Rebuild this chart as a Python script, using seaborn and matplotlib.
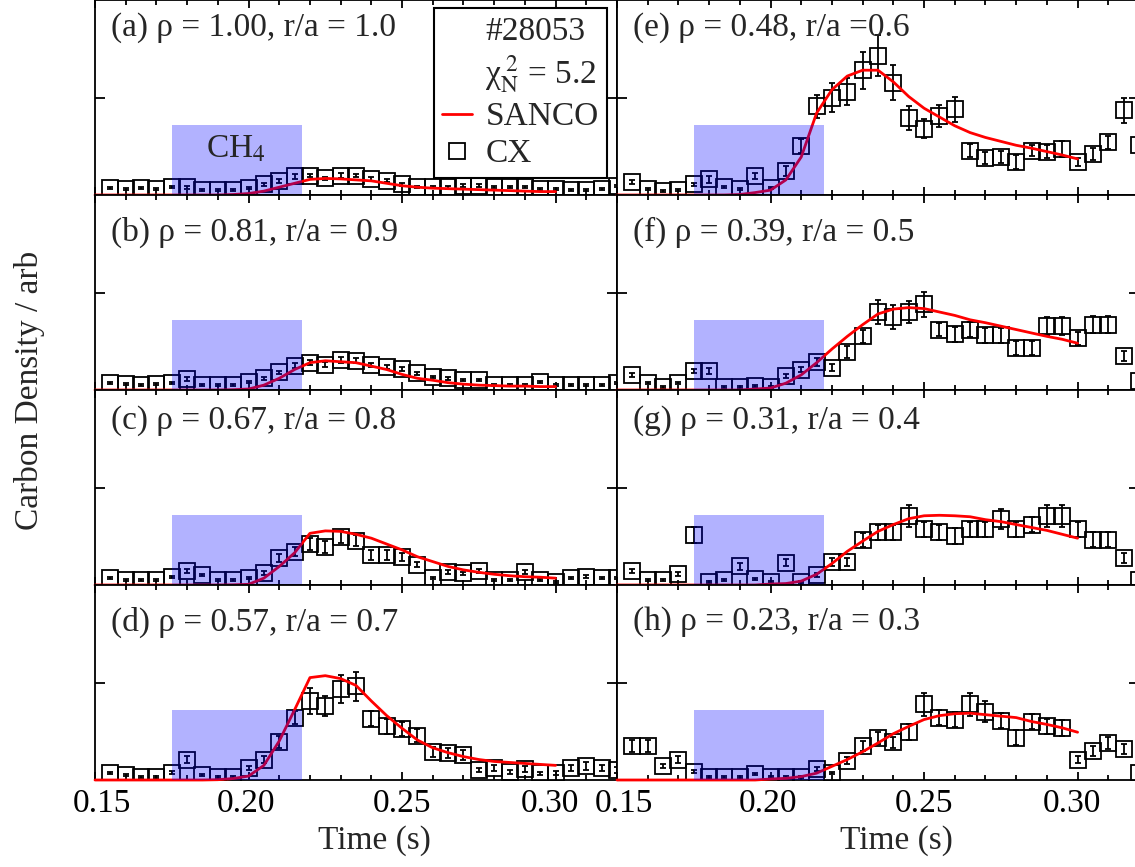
import matplotlib
matplotlib.use("Agg")
import matplotlib.pyplot as plt
import seaborn as sns
from matplotlib.lines import Line2D
from matplotlib.patches import Rectangle
from matplotlib.ticker import MultipleLocator
from matplotlib.transforms import ScaledTranslation

# CX sample times (s)
t_cx = [0.155, 0.160, 0.165, 0.170, 0.175, 0.180, 0.185, 0.190, 0.195, 0.200,
        0.205, 0.210, 0.215, 0.220, 0.225, 0.230, 0.235, 0.240, 0.245, 0.250,
        0.255, 0.260, 0.265, 0.270, 0.275, 0.280, 0.285, 0.290, 0.295, 0.300,
        0.305, 0.310, 0.315, 0.320]
# SANCO model times (s)
t_model = [0.150, 0.155, 0.160, 0.165, 0.170, 0.175, 0.180, 0.185, 0.190, 0.195,
           0.200, 0.205, 0.210, 0.215, 0.220, 0.225, 0.230, 0.235, 0.240, 0.245,
           0.250, 0.255, 0.260, 0.265, 0.270, 0.275, 0.280, 0.285, 0.290, 0.295,
           0.300]

# CX carbon density (arb) and errors per radius
a_cx = [.075, .06, .07, .06, .08, .08, .055, .055, .055, .07, .11, .145, .19, .20, .17, .20, .20,
        .16, .145, .11, .08, .08, .08, .095, .095, .08, .08, .08, .06, .06, .05, .05, .06, .09]
a_err = [.01, .01, .01, .01, .01, .015, .01, .01, .01, .01, .015, .02, .025, .02, .015, .025, .02,
         .02, .015, .015, .01, .01, .015, .015, .015, .01, .01, .01, .01, .01, .01, .01, .01, .01]
b_cx = [.075, .06, .05, .06, .075, .115, .05, .05, .05, .085, .12, .18, .25, .28, .26, .31, .30,
        .26, .24, .22, .17, .13, .12, .10, .10, .05, .05, .05, .085, .05, .05, .05, .05, .07]
b_err = [.01, .01, .01, .01, .01, .02, .01, .01, .01, .01, .015, .02, .025, .025, .025, .03, .025,
         .02, .02, .02, .015, .01, .015, .01, .01, .01, .01, .01, .01, .01, .01, .01, .01, .01]
c_cx = [.075, .05, .05, .05, .085, .14, .10, .05, .05, .075, .12, .28, .34, .42, .39, .49, .455,
        .31, .31, .29, .21, .075, .13, .12, .14, .05, .05, .13, .05, .03, .07, .085, .07, .075]
c_err = [.01, .01, .01, .01, .01, .02, .01, .01, .01, .01, .02, .04, .045, .06, .06, .06, .06,
         .05, .05, .04, .03, .01, .02, .015, .02, .01, .01, .02, .01, .01, .01, .015, .01, .01]
d_cx = [.075, .05, .035, .035, .075, .21, .05, .035, .035, .12, .21, .39, .64, .81, .76, .93, .96,
        .63, .55, .52, .455, .29, .28, .26, .10, .12, .085, .11, .07, .075, .12, .14, .12, .10]
d_err = [.01, .01, .01, .01, .015, .04, .01, .01, .01, .02, .04, .06, .07, .13, .10, .145, .15,
         .08, .08, .07, .07, .05, .05, .05, .02, .03, .02, .03, .015, .02, .03, .04, .03, .03]
e_cx = [.13, .06, .045, .05, .11, .16, .085, .06, .195, .07, .25, .50, .91, 1.0, 1.06, 1.28, 1.43,
        1.15, .79, .68, .81, .88, .455, .38, .39, .34, .455, .445, .47, .34, .42, .54, .87, .51]
e_err = [.02, .01, .01, .01, .015, .035, .01, .01, .03, .01, .05, .07, .12, .15, .14, .19, .21,
         .18, .12, .10, .11, .13, .07, .06, .06, .07, .06, .07, .08, .04, .06, .07, .13, .07]
f_cx = [.155, .07, .035, .07, .195, .195, .035, .035, .04, .03, .14, .21, .29, .23, .39, .55, .80,
        .75, .80, .88, .62, .57, .62, .56, .56, .43, .43, .655, .655, .53, .67, .67, .35, .09]
f_err = [.02, .01, .01, .01, .025, .03, .01, .01, .01, .01, .02, .03, .04, .04, .06, .07, .125,
         .12, .11, .13, .07, .08, .08, .08, .08, .07, .07, .09, .09, .07, .09, .09, .05, .02]
g_cx = [.145, .05, .05, .115, .51, .035, .05, .19, .06, .035, .23, .035, .10, .235, .235, .46, .54,
        .54, .71, .57, .54, .50, .57, .57, .675, .57, .62, .71, .71, .57, .465, .465, .28, .05]
g_err = [.02, .01, .01, .02, .08, .01, .01, .04, .01, .01, .04, .01, .02, .04, .04, .07, .08,
         .08, .11, .08, .08, .08, .08, .08, .10, .08, .08, .11, .11, .08, .08, .08, .05, .01]
h_cx = [.35, .35, .145, .21, .085, .035, .035, .035, .06, .035, .035, .035, .11, .075, .20, .345, .43,
        .385, .49, .775, .64, .62, .775, .70, .61, .435, .60, .55, .535, .21, .30, .38, .32, .07]
h_err = [.06, .06, .02, .04, .015, .01, .01, .01, .01, .01, .01, .01, .02, .01, .04, .05, .06,
         .06, .08, .12, .08, .08, .12, .11, .08, .08, .08, .08, .08, .04, .05, .06, .05, .01]

# SANCO simulated density (arb)
a_model = [0, 0, 0, 0, 0, 0, 0, 0, 0, .005, .015, .04, .08, .12, .16, .17, .165, .155, .145, .12,
           .095, .08, .07, .065, .06, .055, .05, .045, .04, .035, .035]
b_model = [0, 0, 0, 0, 0, 0, 0, 0, 0, .003, .01, .05, .12, .21, .28, .30, .29, .28, .245, .21,
           .16, .12, .10, .075, .06, .05, .045, .04, .04, .035, .035]
c_model = [0, 0, 0, 0, 0, 0, 0, 0, 0, .002, .007, .07, .19, .33, .53, .555, .55, .52, .48, .42,
           .36, .29, .24, .19, .155, .13, .11, .095, .085, .08, .07]
d_model = [0, 0, 0, 0, 0, 0, 0, 0, .003, .015, .04, .15, .40, .72, 1.05, 1.07, 1.04, .97, .81, .66,
           .53, .41, .33, .28, .24, .21, .19, .18, .17, .16, .15]
e_model = [0, 0, 0, 0, 0, 0, 0, 0, .005, .025, .05, .155, .39, .84, 1.08, 1.22, 1.28, 1.28, 1.16, 1.01,
           .89, .80, .71, .64, .59, .55, .51, .48, .445, .41, .37]
f_model = [0, 0, 0, 0, 0, 0, 0, 0, 0, .01, .02, .07, .155, .28, .42, .55, .67, .78, .83, .845,
           .835, .80, .765, .72, .69, .655, .62, .585, .55, .52, .48]
g_model = [0, 0, 0, 0, 0, 0, 0, 0, 0, 0, .01, .015, .04, .11, .22, .345, .45, .55, .62, .68,
           .71, .715, .71, .70, .67, .65, .62, .59, .56, .52, .48]
h_model = [0, 0, 0, 0, 0, 0, 0, 0, 0, 0, .01, .017, .035, .07, .14, .21, .29, .38, .475, .55,
           .62, .66, .68, .685, .67, .655, .64, .60, .57, .535, .49]

panel_labels = ["(a) ρ = 1.00, r/a = 1.0", "(b) ρ = 0.81, r/a = 0.9",
                "(c) ρ = 0.67, r/a = 0.8", "(d) ρ = 0.57, r/a = 0.7",
                "(e) ρ = 0.48, r/a =0.6", "(f) ρ = 0.39, r/a = 0.5",
                "(g) ρ = 0.31, r/a = 0.4", "(h) ρ = 0.23, r/a = 0.3"]
cx_sets = [a_cx, b_cx, c_cx, d_cx, e_cx, f_cx, g_cx, h_cx]
err_sets = [a_err, b_err, c_err, d_err, e_err, f_err, g_err, h_err]
model_sets = [a_model, b_model, c_model, d_model, e_model, f_model, g_model, h_model]

# gas puff window
puff_start, puff_end, puff_height = 0.175, 0.2175, 0.72

sns.set_theme(style="ticks", rc={"axes.edgecolor": "black", "xtick.color": "black",
                                 "ytick.color": "black", "axes.linewidth": 1.3})
plt.rcParams["font.family"] = ["Liberation Serif", "DejaVu Serif"]
plt.rcParams["mathtext.fontset"] = "stix"

W, H = 1135, 867
fig = plt.figure(figsize=(W / 100, H / 100), dpi=100)

col_left = [95, 617]
row_top = [0, 195, 390, 585]
label_off = [28, 37, 31, 37]
pw, ph = 522, 195

axes = []
for i in range(8):
    col, row = i // 4, i % 4
    x0, y0 = col_left[col], row_top[row]
    ax = fig.add_axes([x0 / W, 1 - (y0 + ph) / H, pw / W, ph / H])
    axes.append(ax)

    ax.errorbar(t_cx, cx_sets[i], yerr=err_sets[i], fmt="s", ms=11.5, mfc="none",
                mec="black", mew=1.3, ecolor="black", elinewidth=1.3,
                capsize=2.5, capthick=1.3, zorder=3)
    sns.lineplot(x=t_model, y=model_sets[i], ax=ax, color="red", lw=2,
                 zorder=5, clip_on=False)
    ax.add_patch(Rectangle((puff_start, 0), puff_end - puff_start, puff_height,
                           color="blue", alpha=0.3, lw=0, zorder=6))

    ax.set_xlim(0.15, 0.32)
    ax.set_ylim(0, 2)
    ax.set_xticks([0.15, 0.20, 0.25, 0.30])
    ax.set_xticklabels(["0.15", "0.20", "0.25", "0.30"])
    ax.xaxis.set_minor_locator(MultipleLocator(0.01))
    ax.set_yticks([1])
    ax.tick_params(which="both", direction="in", top=True, right=True,
                   width=1.3, labelsize=24, pad=6, labelleft=False)
    ax.tick_params(axis="x", which="major", length=6)
    ax.tick_params(axis="x", which="minor", length=3.5)
    ax.tick_params(axis="y", which="major", length=7.5)
    ax.set_ylabel("")
    if row == 3:
        ax.set_xlabel("Time (s)", fontsize=24)
        ax.xaxis.set_label_coords(0.535, -0.23)
        # nudge the edge labels apart as in the original
        shifts = [7, -3, 0, -6]
        for lab, dx in zip(ax.get_xticklabels(), shifts):
            lab.set_transform(lab.get_transform() +
                              ScaledTranslation(dx / 100, 0, fig.dpi_scale_trans))
    else:
        ax.tick_params(axis="x", labelbottom=False)
        ax.set_xlabel("")

    ax.text(0.03, 1 - label_off[row] / ph, panel_labels[i], transform=ax.transAxes,
            ha="left", va="center", fontsize=24, zorder=7)

# CH4 puff label and legend in panel (a)
axes[0].text(0.196, 0.47, "CH$_4$", ha="center", va="center", fontsize=24, zorder=7)

blank = Line2D([], [], linestyle="none")
handles = [blank, blank,
           Line2D([], [], color="red", lw=2),
           Line2D([], [], marker="s", mfc="none", mec="black", mew=1.3, ms=11, linestyle="none")]
labels = ["#28053", "χ$_{\\rm N}^{\\ 2}$ = 5.2", "SANCO", "CX"]
leg = axes[0].legend(handles, labels, loc="upper right", bbox_to_anchor=(0.981, 0.959),
                     borderaxespad=0, fontsize=24, frameon=True, fancybox=False,
                     edgecolor="black", framealpha=1, handlelength=0.9,
                     handletextpad=0.4, labelspacing=0.2, borderpad=0.25)
leg.get_frame().set_linewidth(1.5)
leg.set_zorder(8)

fig.text(30 / W, 1 - 390 / H, "Carbon Density / arb", rotation=90,
         ha="center", va="center", fontsize=24)

fig.savefig("out.png", dpi=100)
